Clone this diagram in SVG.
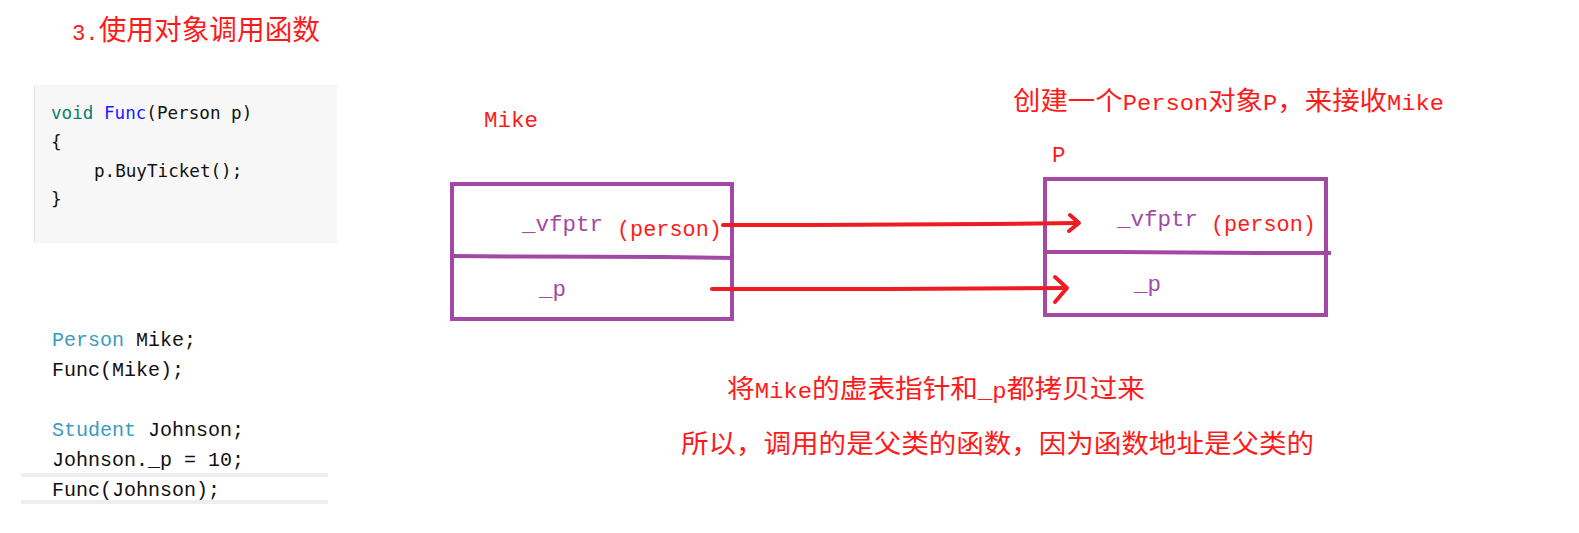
<svg xmlns="http://www.w3.org/2000/svg" width="1579" height="533" viewBox="0 0 1579 533">
<style>
.red{fill:#ff1a1a}
.pur{fill:#a349a4}
.mix{font-family:"Liberation Mono","Noto Sans CJK SC",monospace}
.cjk{font-family:"Noto Sans CJK SC","Liberation Mono",sans-serif}
.lat{font-family:"Liberation Mono",monospace;font-size:22.5px}
.code1{font-family:"DejaVu Sans Mono","Liberation Mono",monospace;font-size:17.6px;fill:#111}
.code2{font-family:"Liberation Mono",monospace;font-size:20px;fill:#111}
.kw{fill:#3a9bbf}
.box{fill:none;stroke:#a349a4;stroke-width:4}
.arr{fill:none;stroke:#ed1c24;stroke-width:4;stroke-linecap:round;stroke-linejoin:round}
</style>
<rect width="1579" height="533" fill="#ffffff"/>

<g id="title">
<text class="mix red" x="72" y="40" font-size="28" textLength="248" lengthAdjust="spacingAndGlyphs"><tspan class="lat" font-size="26">3.</tspan>使用对象调用函数</text>
</g>

<g id="code-func">
<rect x="34" y="85" width="303" height="158" fill="#f7f7f7"/>
<line x1="34.5" y1="85" x2="34.5" y2="243" stroke="#e6e6e6" stroke-width="1"/>
<text class="code1" x="51" y="119"><tspan fill="#0a7f6f">void</tspan> <tspan fill="#1a1aff">Func</tspan>(Person p)</text>
<text class="code1" x="51" y="148">{</text>
<text class="code1" x="94" y="177">p.BuyTicket();</text>
<text class="code1" x="51" y="205">}</text>
</g>

<g id="code-main">
<line x1="21" y1="475" x2="328" y2="475" stroke="#eeeeee" stroke-width="4"/>
<line x1="21" y1="502" x2="328" y2="502" stroke="#eeeeee" stroke-width="4"/>
<text class="code2" x="52" y="346"><tspan class="kw">Person</tspan> Mike;</text>
<text class="code2" x="52" y="376">Func(Mike);</text>
<text class="code2" x="52" y="436"><tspan class="kw">Student</tspan> Johnson;</text>
<text class="code2" x="52" y="466">Johnson._p = 10;</text>
<text class="code2" x="52" y="496">Func(Johnson);</text>
</g>

<g id="mike">
<text class="lat red" x="484" y="127">Mike</text>
<rect class="box" x="452" y="184" width="280" height="135"/>
<path class="box" d="M452 256 L522 256.5 L664 257 L734 258"/>
<text class="lat pur" x="522" y="231">_vfptr</text>
<text class="lat red" x="617" y="236" textLength="105" lengthAdjust="spacingAndGlyphs">(person)</text>
<text class="lat pur" x="539" y="296">_p</text>
</g>

<g id="p-object">
<text class="mix red" x="1013" y="110" font-size="26" textLength="431" lengthAdjust="spacingAndGlyphs">创建一个<tspan class="lat">Person</tspan>对象<tspan class="lat">P</tspan>，来接收<tspan class="lat">Mike</tspan></text>
<text class="lat red" x="1052" y="162">P</text>
<rect class="box" x="1045" y="179" width="281" height="136"/>
<path class="box" d="M1045 252 L1117 252 L1258 253 L1331 253"/>
<text class="lat pur" x="1117" y="226">_vfptr</text>
<text class="lat red" x="1211" y="231" textLength="105" lengthAdjust="spacingAndGlyphs">(person)</text>
<text class="lat pur" x="1134" y="291">_p</text>
</g>

<g id="connectors">
<path class="arr" d="M723 225 L812 225 L988 224 L1077 223"/>
<path class="arr" d="M1070 215 L1079 223 L1069 231"/>
<path class="arr" d="M712 289 L888 289 L1066 288"/>
<path class="arr" d="M1055 277 L1067 288 L1055 302"/>
</g>

<g id="notes">
<text class="mix red" x="727" y="398" font-size="26" textLength="418" lengthAdjust="spacingAndGlyphs">将<tspan class="lat">Mike</tspan>的虚表指针和<tspan class="lat">_p</tspan>都拷贝过来</text>
<text class="cjk red" x="681" y="453" font-size="26" textLength="633" lengthAdjust="spacingAndGlyphs">所以，调用的是父类的函数，因为函数地址是父类的</text>
</g>
</svg>
